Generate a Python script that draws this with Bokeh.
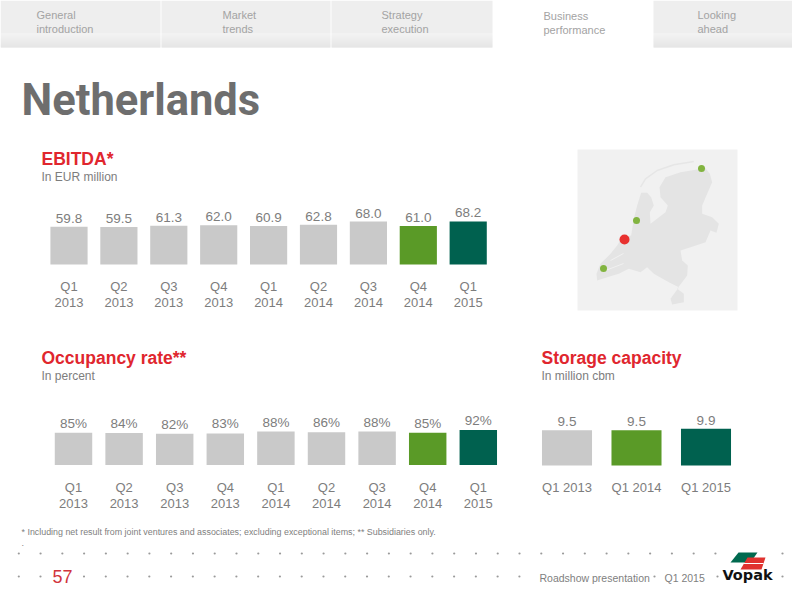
from bokeh.core.properties import value
from bokeh.embed import file_html
from bokeh.models import Range1d
from bokeh.plotting import figure
from bokeh.resources import INLINE

# data
quarters = ["Q1", "Q2", "Q3", "Q4", "Q1", "Q2", "Q3", "Q4", "Q1"]
years = ["2013", "2013", "2013", "2013", "2014", "2014", "2014", "2014", "2015"]
ebitda = [59.8, 59.5, 61.3, 62.0, 60.9, 62.8, 68.0, 61.0, 68.2]
occupancy = [85, 84, 82, 83, 88, 86, 88, 85, 92]
storage_labels = ["Q1 2013", "Q1 2014", "Q1 2015"]
storage = [9.5, 9.5, 9.9]
tabs = ["General", "Market", "Strategy", "Business", "Looking"]
tabs2 = ["introduction", "trends", "execution", "performance", "ahead"]

GREY = "#c9c9c9"
GREEN = "#5a9a27"
DARK = "#00614f"
RED = "#e0262e"
TEXT = "#7d7d7d"
FONT = value("Liberation Sans")

X0, X1, Y0, Y1 = 0, 792, 0, 592

p = figure(width=X1 - X0, height=Y1 - Y0, x_range=Range1d(X0, X1), y_range=Range1d(Y1, Y0),
           x_axis_type=None, y_axis_type=None, toolbar_location=None, tools="",
           output_backend="svg", min_border=0, outline_line_color=None)
p.grid.visible = False


def label(x, y, s, size, color=TEXT, style="normal", align="left", font=FONT):
    p.text(x=[x], y=[y], text=[s], text_font=font, text_font_size=size, text_color=color,
           text_font_style=style, text_align=align, text_baseline="middle")


# tab bar
for x0, x1 in [(0, 160), (161, 330), (331, 492), (653, 800)]:
    p.quad(left=x0, right=x1, top=0, bottom=33, fill_color="#eeeeee", line_color=None)
    for i in range(14):
        shade = 238 - int(i * 1.3)
        p.quad(left=x0, right=x1, top=33 + i, bottom=34 + i,
               fill_color=(shade, shade, shade), line_color=None)

for tx, ty, a, b in zip([36, 222, 381, 543, 697], [14, 14, 14, 15, 14], tabs, tabs2):
    label(tx, ty, a, "11px", "#a3a3a3")
    label(tx, ty + 14, b, "11px", "#a3a3a3")

label(21, 100, "Netherlands", "43.5px", "#6e6e6e", "bold", font=value("Roboto"))

# map, outline traced in two crops of the picture
north_x = [122, 130, 140, 152, 170, 182, 190, 178, 180, 225, 232, 210, 207, 225, 270, 320, 345, 358, 365, 350, 335, 335, 365, 385, 378]
north_y = [240, 190, 150, 112, 112, 125, 150, 170, 205, 170, 150, 125, 95, 65, 50, 42, 38, 55, 80, 115, 150, 175, 185, 205, 232]
south_x = [360, 345, 300, 270, 275, 292, 290, 260, 280, 280, 245, 240, 265, 235, 190, 170, 150, 115, 85, 50, 20, 18, 30, 60, 80, 95]
south_y = [0, 35, 50, 60, 90, 105, 135, 175, 190, 215, 222, 205, 170, 155, 130, 110, 125, 115, 130, 140, 150, 130, 100, 70, 45, 20]
map_x = [590 + v / 3 for v in north_x + south_x]
map_y = [155 + v / 3 for v in north_y] + [230 + v / 3 for v in south_y]
p.quad(left=577, right=737, top=149, bottom=310, fill_color="#f1f1f1", line_color=None)
p.patch(map_x, map_y, fill_color="#e4e4e4", line_color=None)
p.line([590 + v / 3 for v in [150, 165, 200, 250, 310]], [155 + v / 3 for v in [95, 70, 45, 28, 18]],
       line_color="#e6e6e6", line_width=1.5)
p.multi_line([[610, 623], [605, 623]], [[260, 253], [270, 263]], line_color="#f1f1f1", line_width=1)
p.scatter([701, 636, 603], [168, 220, 268], size=7, marker="circle", fill_color="#82b440", line_color=None)
p.scatter([624], [239], size=10, marker="circle", fill_color="#e8312f", line_color=None)


def bars(name, vals, texts, first, step, base, scale, width, colors, offset):
    # own x and y scale for each panel: first/step/base/scale are the screen position of it
    p.extra_x_ranges[name] = Range1d((X0 - first) / step, (X1 - first) / step)
    p.extra_y_ranges[name] = Range1d((base - Y1) / scale, (base - Y0) / scale)
    xs = list(range(len(vals)))
    p.vbar(x=xs, top=vals, bottom=0, width=width, fill_color=colors, line_color=None,
           x_range_name=name, y_range_name=name)
    p.text(x=xs, y=vals, text=texts, text_font=FONT, text_font_size="13.5px", text_color=TEXT,
           text_align="center", text_baseline="bottom", y_offset=offset,
           x_range_name=name, y_range_name=name)
    return xs


def axis_text(name, xs, y, texts):
    p.text(x=xs, y=[y] * len(xs), text=texts, text_font=FONT, text_font_size="13px", text_color=TEXT,
           text_align="center", text_baseline="middle", x_range_name=name)


quarter_colors = [GREY] * 7 + [GREEN, DARK]

# EBITDA
label(41, 158, "EBITDA*", "17.5px", RED, "bold")
label(41, 176, "In EUR million", "12px")
xs = bars("ebitda", ebitda, [f"{v:.1f}" for v in ebitda], 68.5, 49.9, 264, 0.632, 0.745, quarter_colors, -4)
axis_text("ebitda", xs, 286, quarters)
axis_text("ebitda", xs, 302, years)

# Occupancy rate
label(41, 357, "Occupancy rate**", "17.5px", RED, "bold")
label(41, 375, "In percent", "12px")
xs = bars("occ", occupancy, [f"{v}%" for v in occupancy], 73, 50.6, 464.5, 0.38, 0.74, quarter_colors, -2)
axis_text("occ", xs, 487, quarters)
axis_text("occ", xs, 503, years)

# Storage capacity
label(541, 357, "Storage capacity", "17.5px", RED, "bold")
label(541, 375, "In million cbm", "12px")
xs = bars("storage", storage, [f"{v:.1f}" for v in storage], 566.5, 69.5, 465, 3.7, 0.72, [GREY, GREEN, DARK], -4)
axis_text("storage", xs, 487, storage_labels)

# footer
label(21, 531, "* Including net result from joint ventures and associates; excluding exceptional items; ** Subsidiaries only.",
      "8.9px", "#808080")
label(21, 542, ".", "9px", "#808080")
row1 = [18.3 + 21.77 * i for i in range(33)] + [782]
row2 = [18.3, 40] + [83.5 + 21.77 * i for i in range(21)] + [654, 717, 782]
p.scatter(row1, [553] * len(row1), size=2.2, marker="circle", fill_color="#9a9a9a", line_color=None)
p.scatter(row2, [576] * len(row2), size=2.2, marker="circle", fill_color="#9a9a9a", line_color=None)
label(52, 576, "57", "18px", "#d1343c")
label(539, 577, "Roadshow presentation", "10.5px", "#808080")
label(664, 577, "Q1 2015", "10.5px", "#808080")

# logo
p.patch([738, 757, 750, 730], [552, 552, 562, 562], fill_color="#00694f", line_color=None)
p.patch([747, 765, 761, 740], [557, 557, 569, 569], fill_color="#e0322f", line_color=None)
p.line([743, 763], [563, 563], line_color="white", line_width=1)
label(747, 574, "Vopak", "14.5px", "#111111", "bold", "center", font=value("DejaVu Sans"))

open("out.html", "w").write(file_html(p, INLINE))
